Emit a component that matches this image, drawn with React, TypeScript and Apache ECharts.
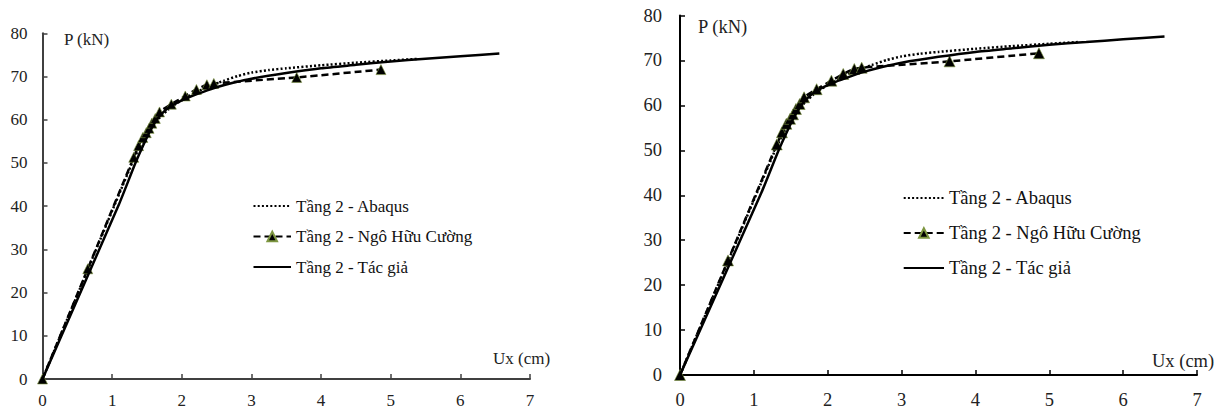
import React, { useEffect, useRef } from "react";
import * as echarts from "echarts";

// Tầng 2 - Abaqus (dotted)
const abaqusX = [0, 0.65, 1.3, 1.4, 1.5, 1.6, 1.7, 1.8, 1.9, 2.05, 2.2, 2.4, 2.6, 2.8, 3.0, 3.25, 3.5, 4.0, 4.5, 5.0, 5.4];
const abaqusY = [0, 25.3, 50.5, 53.8, 56.6, 58.9, 60.8, 62.3, 63.5, 65.0, 66.3, 67.8, 69.0, 70.1, 70.9, 71.5, 71.9, 72.6, 73.2, 73.7, 74.1];

// Tầng 2 - Ngô Hữu Cường (dashed with triangles)
const cuongX = [0, 0.65, 1.31, 1.38, 1.44, 1.49, 1.53, 1.57, 1.62, 1.68, 1.85, 2.05, 2.21, 2.36, 2.46, 3.65, 4.86];
const cuongY = [0, 25.5, 51.3, 54.0, 55.9, 57.0, 58.0, 59.2, 60.3, 61.8, 63.6, 65.5, 67.0, 68.1, 68.4, 69.8, 71.6];

// Tầng 2 - Tác giả (solid)
const tacgiaX = [0, 1.1, 1.33, 1.45, 1.55, 1.65, 1.75, 1.85, 1.95, 2.1, 2.3, 2.5, 2.75, 3.0, 3.5, 4.0, 4.5, 5.0, 5.5, 6.0, 6.56];
const tacgiaY = [0, 40.5, 49.8, 54.2, 57.6, 60.2, 62.0, 63.2, 64.1, 65.2, 66.4, 67.5, 68.6, 69.5, 70.8, 71.9, 72.7, 73.5, 74.1, 74.7, 75.3];

const seriesNames = ["Tầng 2 - Abaqus", "Tầng 2 - Ngô Hữu Cường", "Tầng 2 - Tác giả"];
const xTicks = [0, 1, 2, 3, 4, 5, 6, 7];
const yTicks = [0, 10, 20, 30, 40, 50, 60, 70, 80];
const yAxisName = "P (kN)";
const xAxisName = "Ux (cm)";

const zip = (xs: number[], ys: number[]) => xs.map((x, i) => [x, ys[i]]);

const FONT = "Liberation Serif, Times New Roman, Times, DejaVu Serif, serif";

export default function App() {
  const ref = useRef<HTMLDivElement>(null);
  useEffect(() => {
    if (!ref.current) return;
    const chart = echarts.init(ref.current, undefined, { renderer: "svg" });

    const panels = [
      { grid: { left: 42.5, top: 33.3, width: 487.5, height: 346.7 }, axisColor: "#404040", fs: 17, yMargin: 15, xMargin: 13, sym: 10,
        legend: { left: 252.5, top: 197, itemWidth: 37.5, itemGap: 12.5, lh: 18 },
        pName: { x: 64, y: 39 }, uName: { x: 493, y: 358 } },
      { grid: { left: 680, top: 15.5, width: 517, height: 363.2 }, axisColor: "#000000", fs: 18.5, yMargin: 18, xMargin: 15, sym: 11,
        legend: { left: 902.7, top: 188, itemWidth: 40.3, itemGap: 15, lh: 20 },
        pName: { x: 698, y: 27 }, uName: { x: 1152, y: 361 } },
    ];

    const grids: any[] = [];
    const xAxes: any[] = [];
    const yAxes: any[] = [];
    const series: any[] = [];
    const legends: any[] = [];
    const graphics: any[] = [];

    panels.forEach((p, i) => {
      grids.push({ ...p.grid, containLabel: false });
      const axisCommon = {
        type: "value",
        gridIndex: i,
        axisLine: { show: true, lineStyle: { color: p.axisColor, width: 2 } },
        axisTick: { show: true, inside: true, length: 5, lineStyle: { color: p.axisColor, width: 1.5 } },
        splitLine: { show: false },
      };
      xAxes.push({
        ...axisCommon,
        min: xTicks[0],
        max: xTicks[xTicks.length - 1],
        interval: xTicks[1] - xTicks[0],
        axisLabel: { color: "#222", fontFamily: FONT, fontSize: p.fs, margin: p.xMargin, showMinLabel: true, showMaxLabel: true },
      });
      yAxes.push({
        ...axisCommon,
        min: yTicks[0],
        max: yTicks[yTicks.length - 1],
        interval: yTicks[1] - yTicks[0],
        axisLabel: { color: "#222", fontFamily: FONT, fontSize: p.fs, margin: p.yMargin, showMinLabel: true, showMaxLabel: true },
      });
      series.push(
        {
          name: seriesNames[0], type: "line", xAxisIndex: i, yAxisIndex: i,
          data: zip(abaqusX, abaqusY), showSymbol: false, symbol: "none",
          smooth: 0.2,
          lineStyle: { color: "#000", width: 2.5, type: [2, 2.2], cap: "butt" },
          itemStyle: { color: "#000" }, z: 2,
        },
        {
          name: seriesNames[1], type: "line", xAxisIndex: i, yAxisIndex: i,
          data: zip(cuongX, cuongY), symbol: "triangle", symbolSize: p.sym, showSymbol: true,
          smooth: 0.2,
          lineStyle: { color: "#000", width: 2.5, type: [7, 4] },
          itemStyle: { color: "#000000", borderColor: "#7d9640", borderWidth: 0.6 }, z: 3,
        },
        {
          name: seriesNames[2], type: "line", xAxisIndex: i, yAxisIndex: i,
          data: zip(tacgiaX, tacgiaY), showSymbol: false, symbol: "none",
          smooth: 0.2,
          lineStyle: { color: "#000", width: 2.5 },
          itemStyle: { color: "#000" }, z: 4,
        }
      );
      legends.push({
        orient: "vertical",
        left: p.legend.left,
        top: p.legend.top,
        padding: 0,
        itemWidth: p.legend.itemWidth,
        itemHeight: 12,
        itemGap: p.legend.itemGap,
        data: [
          { name: seriesNames[0], itemStyle: { opacity: 0 } },
          { name: seriesNames[1] },
          { name: seriesNames[2], itemStyle: { opacity: 0 } },
        ],
        selectedMode: false,
        textStyle: { fontFamily: FONT, fontSize: p.fs, color: "#111", lineHeight: p.legend.lh },
      });
      graphics.push(
        { type: "text", x: p.pName.x, y: p.pName.y, style: { text: yAxisName, fontFamily: FONT, fontSize: p.fs, fill: "#222", verticalAlign: "middle" } },
        { type: "text", x: p.uName.x, y: p.uName.y, style: { text: xAxisName, fontFamily: FONT, fontSize: p.fs, fill: "#222", verticalAlign: "middle" } }
      );
    });

    chart.setOption({
      animation: false,
      backgroundColor: "#ffffff",
      textStyle: { fontFamily: FONT },
      grid: grids,
      xAxis: xAxes,
      yAxis: yAxes,
      legend: legends,
      series,
      graphic: graphics,
    });
    return () => chart.dispose();
  }, []);

  return <div ref={ref} style={{ position: "absolute", left: 0, top: 0, width: 1225, height: 409 }} />;
}
